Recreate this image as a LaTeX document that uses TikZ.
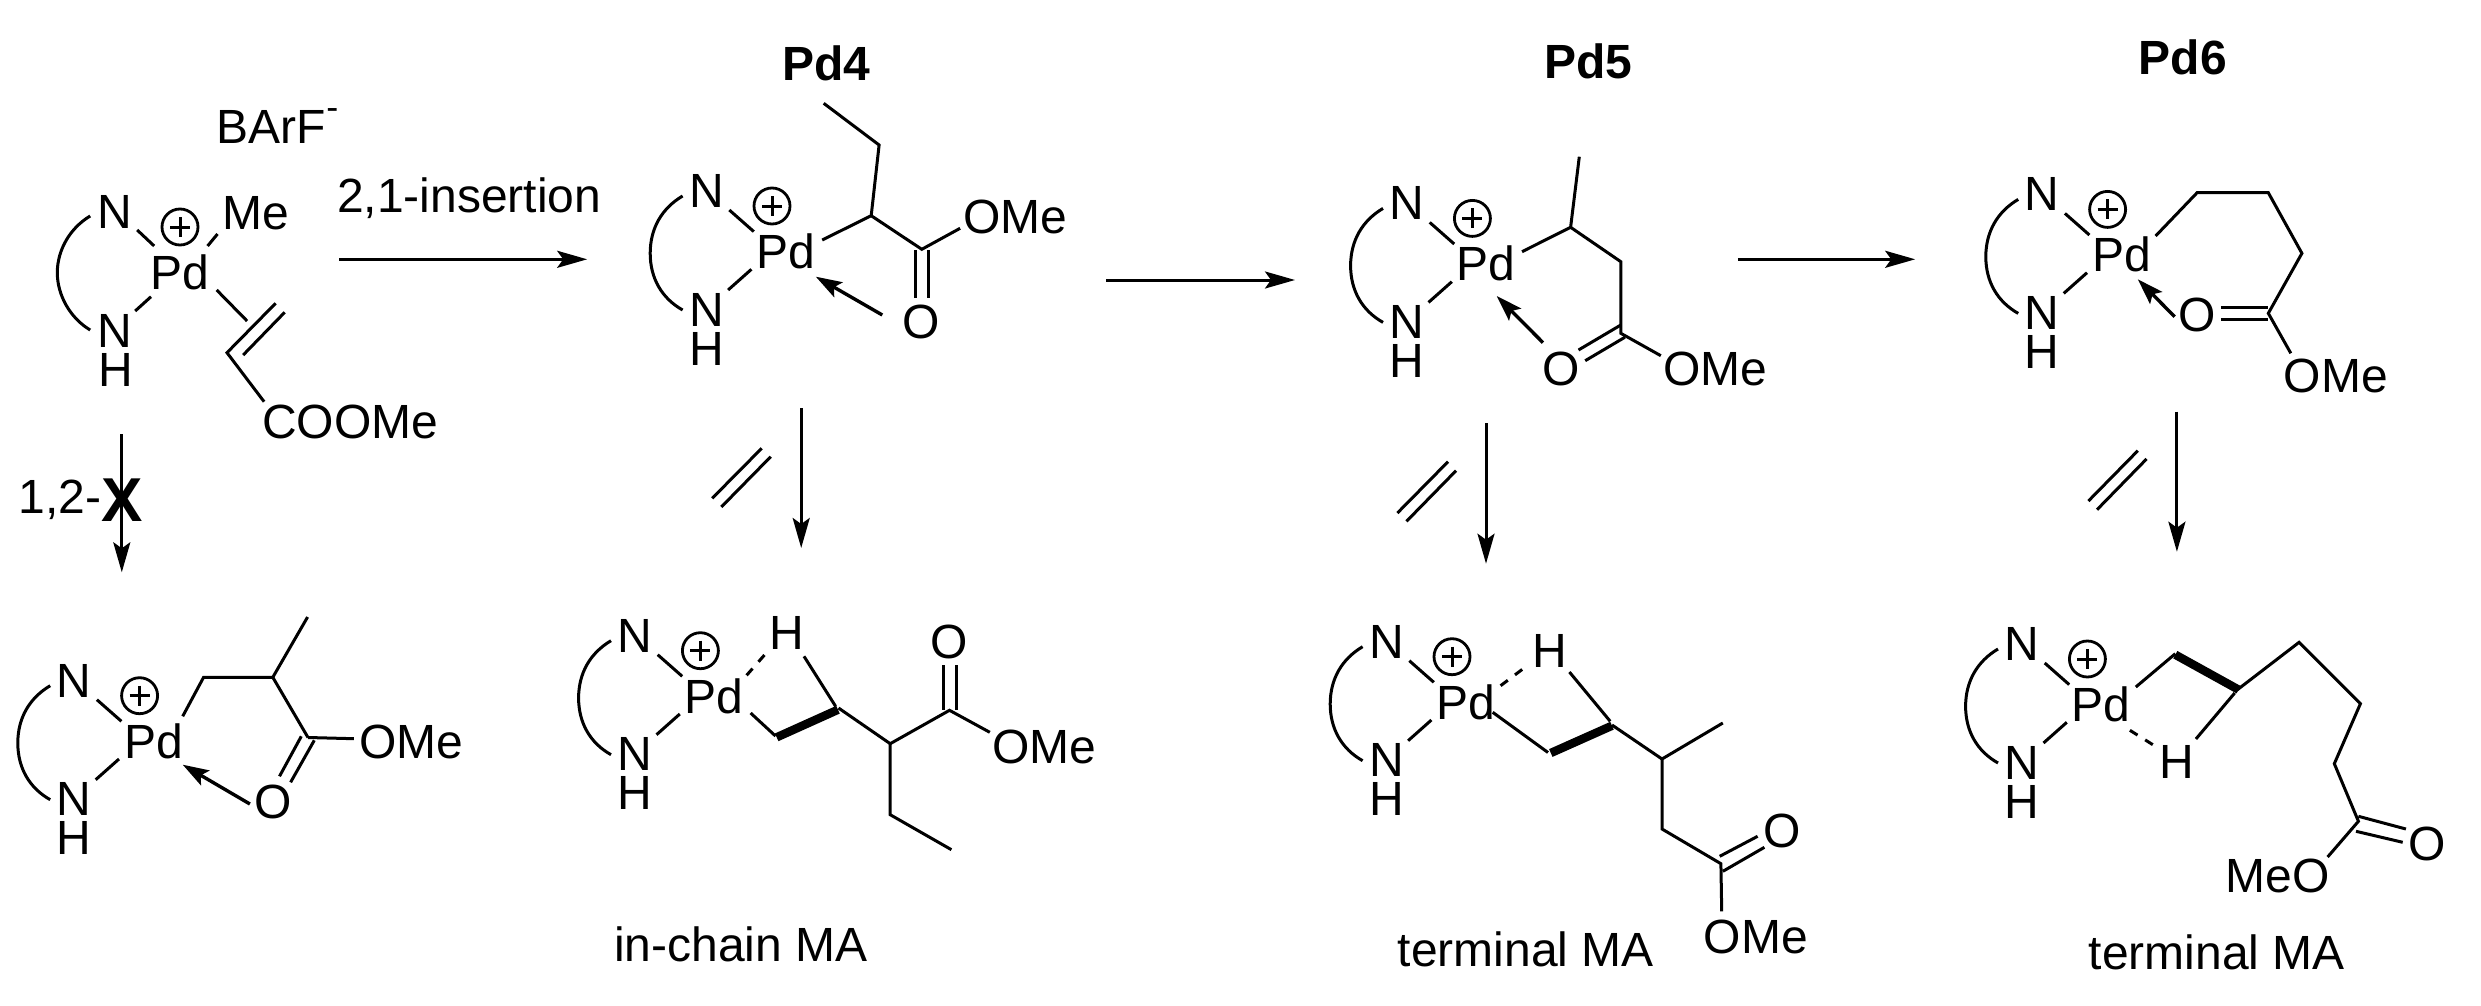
\documentclass[tikz,border=0pt]{standalone}
\usepackage{fontspec}
\setmainfont{Liberation Sans}
\usetikzlibrary{arrows.meta}
\tikzset{
  atom/.style={anchor=base,inner sep=0pt,font=\fontsize{48}{50}\selectfont},
  boldlabel/.style={anchor=base,inner sep=0pt,font=\fontsize{48}{50}\selectfont\bfseries},
  bond/.style={line width=3pt,line join=miter},
  wedgebond/.style={line width=8.5pt},
  dashbond/.style={line width=3pt,dash pattern=on 9pt off 9pt},
  rxn/.style={line width=3pt,-{Stealth[length=30pt,width=17pt,inset=6pt]}},
  coord/.style={line width=3.4pt,-{Stealth[length=26pt,width=17pt,inset=5pt]}},
  pluscirc/.style={circle,draw,line width=2.8pt,inner sep=0pt,minimum size=36pt},
}
\newcommand{\PdCore}[3]{%
  \begin{scope}[shift={(#2,#3)}]
    \node[atom] (#1Pd) at (0,0) {Pd};
    \node[atom] (#1Nt) at (-79.1,-61) {N};
    \node[atom] (#1Nb) at (-79.1,57.7) {N};
    \node[atom] (#1H) at (-79.1,96.7) {H};
    \node[pluscirc] (#1pl) at (-13.8,-62.3) {};
    \draw[bond] (#1pl.center) +(-10,0) -- +(10,0) +(0,-10) -- +(0,10);
    \coordinate (#1a) at (-56.5,-58.3);
    \coordinate (#1b) at (-32,-36.7);
    \coordinate (#1c) at (-34.4,1);
    \coordinate (#1d) at (-57.7,21.7);
    \coordinate (#1e) at (-103.2,-72.3);
    \coordinate (#1f) at (-135.6,-15);
    \coordinate (#1g) at (-103.2,41.7);
    \draw[bond] (#1a) -- (#1b);
    \draw[bond] (#1c) -- (#1d);
    \draw[bond] (#1e) .. controls (-124,-60) and (-135.6,-40) .. (#1f)
                      .. controls (-135.6,10) and (-124,30) .. (#1g);
  \end{scope}}
\begin{document}
\begin{tikzpicture}[x=1pt,y=-1pt]
\useasboundingbox (0,0) rectangle (2481,1006);
\fill[white] (0,0) rectangle (2481,1006);

% ---------- starting complex
\node[atom] (barf) at (277.6,143.3) {BArF\raisebox{24pt}{\fontsize{36}{38}\selectfont -}};
\node[atom] (sPd) at (180.3,289.3) {Pd};
\node[atom] (sNt) at (114.7,228.3) {N};
\node[atom] (sMe) at (255.4,229.3) {Me};
\node[atom] (sNb) at (114.7,347.7) {N};
\node[atom] (sH) at (115.5,386) {H};
\node[atom] (sCOOMe) at (350.3,438.3) {COOMe};
\node[pluscirc] (spl) at (180,227) {};
\draw[bond] (spl.center) +(-10,0) -- +(10,0) +(0,-10) -- +(0,10);
\coordinate (s1) at (137.2,230); \coordinate (s2) at (154.2,246);
\coordinate (s3) at (217.5,234); \coordinate (s4) at (207.6,246);
\coordinate (s5) at (151,296.7); \coordinate (s6) at (135.2,311);
\coordinate (s7) at (90.2,216); \coordinate (s8) at (57.3,272.7); \coordinate (s9) at (90.2,330);
\coordinate (s10) at (216.7,290); \coordinate (s11) at (247.1,321);
\coordinate (s12) at (275.6,303.3); \coordinate (s13) at (227,352.7);
\coordinate (s14) at (284.7,312.3); \coordinate (s15) at (243.2,355);
\coordinate (s16) at (264.1,401.7);
\draw[bond] (s1) -- (s2);
\draw[bond] (s3) -- (s4);
\draw[bond] (s5) -- (s6);
\draw[bond] (s7) .. controls (70,228) and (57.3,250) .. (s8) .. controls (57.3,295) and (70,318) .. (s9);
\draw[bond] (s10) -- (s11);
\draw[bond] (s12) -- (s13) -- (s16);
\draw[bond] (s14) -- (s15);

% reaction label + arrow
\node[atom] (lab21) at (469.3,212.7) {2,1-insertion};
\coordinate (ar1a) at (339.3,259.3); \coordinate (ar1b) at (587.2,259.3);
\draw[rxn] (ar1a) -- (ar1b);

% 1,2- blocked arrow
\coordinate (ar0a) at (121.8,434.3); \coordinate (ar0b) at (121.8,572.3);
\draw[rxn] (ar0a) -- (ar0b);
\node[atom] (lab12) at (60.3,513) {1,2-};
\node[anchor=base,inner sep=0pt,font=\fontsize{62}{64}\selectfont\bfseries] (xmark) at (122.5,521.3) {X};

% ---------- bottom-left product
\PdCore{f}{153.4}{758}
\node[atom] (fO) at (272.8,818) {O};
\node[atom] (fOMe) at (411.2,758) {OMe};
\coordinate (f1) at (182.7,716.3); \coordinate (f2) at (203.6,677.3);
\coordinate (f3) at (272.8,677.3); \coordinate (f4) at (307.6,617);
\coordinate (f5) at (308,737.5); \coordinate (f6) at (301.3,736.3);
\coordinate (f7) at (279.5,776.3); \coordinate (f8) at (314.3,740.3);
\coordinate (f9) at (290.6,782.3); \coordinate (f10) at (353.9,738.7);
\coordinate (f11) at (249.9,804); \coordinate (f12) at (182.7,764.7);
\draw[bond] (f1) -- (f2) -- (f3) -- (f4);
\draw[bond] (f3) -- (f5);
\draw[bond] (f6) -- (f7);
\draw[bond] (f8) -- (f9);
\draw[bond] (f5) -- (f10);
\draw[coord] (f11) -- (f12);

% ---------- Pd4
\node[boldlabel] (lab4) at (826.5,81) {Pd4};
\PdCore{g}{785.8}{268.3}
\node[atom] (gO) at (921,338.3) {O};
\node[atom] (gOMe) at (1015.5,233.3) {OMe};
\coordinate (g1) at (822.2,240); \coordinate (g2) at (871.2,215.7);
\coordinate (g3) at (879.1,145); \coordinate (g4) at (823.7,103.3);
\coordinate (g5) at (921.8,249.3); \coordinate (g6) at (960.1,228.3);
\coordinate (g7) at (915.9,250); \coordinate (g8) at (915.9,297.7);
\coordinate (g9) at (928.5,250); \coordinate (g10) at (928.5,297.7);
\coordinate (g11) at (882.3,315); \coordinate (g12) at (815.8,276.7);
\draw[bond] (g1) -- (g2) -- (g3) -- (g4);
\draw[bond] (g2) -- (g5) -- (g6);
\draw[bond] (g7) -- (g8);
\draw[bond] (g9) -- (g10);
\draw[coord] (g11) -- (g12);

\coordinate (ar2a) at (801.2,408.3); \coordinate (ar2b) at (801.2,548);
\draw[rxn] (ar2a) -- (ar2b);
\coordinate (e1a) at (761.7,448.3); \coordinate (e1b) at (712.2,498.3);
\coordinate (e2a) at (770.7,456.7); \coordinate (e2b) at (721.3,507);
\draw[bond] (e1a) -- (e1b);
\draw[bond] (e2a) -- (e2b);

\coordinate (ar3a) at (1106.4,280); \coordinate (ar3b) at (1295,280);
\draw[rxn] (ar3a) -- (ar3b);

% ---------- bottom Pd4 (in-chain)
\PdCore{h}{714.2}{713}
\node[atom] (hHb) at (786.6,649) {H};
\node[atom] (hO) at (949.5,658) {O};
\node[atom] (hOMe) at (1044.4,763) {OMe};
\node[atom] (hlab) at (740.9,961.3) {in-chain MA};
\coordinate (h1) at (750.6,713); \coordinate (h2) at (775.5,736);
\coordinate (h3) at (776.7,737.3); \coordinate (h4) at (838,709.7);
\coordinate (h5) at (804,656.3); \coordinate (h6) at (835.6,706.3);
\coordinate (h7) at (746.6,675.3); \coordinate (h8) at (765.6,653.7);
\coordinate (h9) at (838.5,708); \coordinate (h10) at (890.2,743.7);
\coordinate (h11) at (949.5,710.3); \coordinate (h12) at (890.2,814.7);
\coordinate (h13) at (951.4,849.7); \coordinate (h14) at (943.5,709.7);
\coordinate (h15) at (943.5,664.7); \coordinate (h16) at (956.2,709.7);
\coordinate (h17) at (956.2,664.7); \coordinate (h18) at (989.8,732.3);
\draw[bond] (h1) -- (h2);
\draw[wedgebond] (h3) -- (h4);
\draw[bond] (h5) -- (h6);
\draw[dashbond] (h7) -- (h8);
\draw[bond] (h9) -- (h10) -- (h11) -- (h18);
\draw[bond] (h10) -- (h12) -- (h13);
\draw[bond] (h14) -- (h15);
\draw[bond] (h16) -- (h17);

% ---------- Pd5
\node[boldlabel] (lab5) at (1588.2,78.3) {Pd5};
\PdCore{i}{1486.2}{280.7}
\node[atom] (iO) at (1560.7,385) {O};
\node[atom] (iOMe) at (1715.5,385) {OMe};
\coordinate (i1) at (1522,251.7); \coordinate (i2) at (1570.6,227.3);
\coordinate (i3) at (1579.3,156.7); \coordinate (i4) at (1620.8,261.7);
\coordinate (i5) at (1620.8,333.3); \coordinate (i6) at (1660.8,355.7);
\coordinate (i7) at (1620.8,325); \coordinate (i8) at (1578.5,350);
\coordinate (i9) at (1624.8,337.3); \coordinate (i10) at (1585.2,360.7);
\coordinate (i11) at (1543,342.7); \coordinate (i12) at (1496.7,296);
\draw[bond] (i1) -- (i2) -- (i3);
\draw[bond] (i2) -- (i4) -- (i5) -- (i6);
\draw[bond] (i7) -- (i8);
\draw[bond] (i9) -- (i10);
\draw[coord] (i11) -- (i12);

\coordinate (ar4a) at (1486,423.3); \coordinate (ar4b) at (1486,563.7);
\draw[rxn] (ar4a) -- (ar4b);
\coordinate (e3a) at (1448,461.7); \coordinate (e3b) at (1397.4,513);
\coordinate (e4a) at (1456,470.7); \coordinate (e4b) at (1406.5,521.3);
\draw[bond] (e3a) -- (e3b);
\draw[bond] (e4a) -- (e4b);

\coordinate (ar5a) at (1737.9,259.3); \coordinate (ar5b) at (1915.2,259.3);
\draw[rxn] (ar5a) -- (ar5b);

% ---------- bottom Pd5
\PdCore{j}{1465.8}{719}
\node[atom] (jHb) at (1549.7,667) {H};
\node[atom] (jO) at (1782.2,847.3) {O};
\node[atom] (jOMe) at (1755.9,953) {OMe};
\node[atom] (jlab) at (1525.7,966.3) {terminal MA};
\coordinate (j1) at (1492.7,712.3); \coordinate (j2) at (1548,752.5);
\coordinate (j3) at (1550.8,753); \coordinate (j4) at (1612,725.7);
\coordinate (j5) at (1569.4,672); \coordinate (j6) at (1610.2,721.3);
\coordinate (j7) at (1500.6,685.7); \coordinate (j8) at (1527.1,665.7);
\coordinate (j9) at (1612,725); \coordinate (j10) at (1662,759);
\coordinate (j11) at (1722.8,723); \coordinate (j12) at (1662,829);
\coordinate (j13) at (1720.9,863.7); \coordinate (j14) at (1721.7,911.3);
\coordinate (j15) at (1757.6,836.3); \coordinate (j16) at (1719.7,856.3);
\coordinate (j17) at (1764.4,847.3); \coordinate (j18) at (1722.9,871.3);
\draw[bond] (j1) -- (j2);
\draw[wedgebond] (j3) -- (j4);
\draw[bond] (j5) -- (j6);
\draw[dashbond] (j7) -- (j8);
\draw[bond] (j9) -- (j10) -- (j11);
\draw[bond] (j10) -- (j12) -- (j13) -- (j14);
\draw[bond] (j15) -- (j16);
\draw[bond] (j17) -- (j18);

% ---------- Pd6
\node[boldlabel] (lab6) at (2182.9,75) {Pd6};
\PdCore{k}{2121.4}{271.7}
\node[atom] (kO) at (2197.1,331.7) {O};
\node[atom] (kOMe) at (2335.9,392.7) {OMe};
\coordinate (k1) at (2155.6,236); \coordinate (k2) at (2197.1,192.7);
\coordinate (k3) at (2268.3,192.7); \coordinate (k4) at (2301.9,253.3);
\coordinate (k5) at (2268.3,313.3); \coordinate (k6) at (2290.8,353.3);
\coordinate (k7) at (2220.8,307.3); \coordinate (k8) at (2268.3,307.3);
\coordinate (k9) at (2220.8,319.3); \coordinate (k10) at (2268.3,319.3);
\coordinate (k11) at (2174.6,316.7); \coordinate (k12) at (2137.8,279.3);
\draw[bond] (k1) -- (k2) -- (k3) -- (k4) -- (k5) -- (k6);
\draw[bond] (k7) -- (k8);
\draw[bond] (k9) -- (k10);
\draw[coord] (k11) -- (k12);

\coordinate (ar6a) at (2176.9,411.7); \coordinate (ar6b) at (2176.9,551.7);
\draw[rxn] (ar6a) -- (ar6b);
\coordinate (e5a) at (2137.8,450.7); \coordinate (e5b) at (2088.4,501);
\coordinate (e6a) at (2146.5,459); \coordinate (e6b) at (2097,509.7);
\draw[bond] (e5a) -- (e5b);
\draw[bond] (e6a) -- (e6b);

% ---------- bottom Pd6
\PdCore{m}{2101.2}{721.3}
\node[atom] (mHb) at (2176.5,778) {H};
\node[atom] (mO) at (2427.2,860.7) {O};
\node[atom] (mMeO) at (2277.4,892.3) {MeO};
\node[atom] (mlab) at (2216.9,969) {terminal MA};
\coordinate (m1) at (2135.8,687); \coordinate (m2) at (2175.3,653.7);
\coordinate (m3) at (2175.3,654.7); \coordinate (m4) at (2238.6,689.7);
\coordinate (m5) at (2234.7,693); \coordinate (m6) at (2195.9,739);
\coordinate (m7) at (2129.9,730.3); \coordinate (m8) at (2154.4,745.7);
\coordinate (m9) at (2237,690); \coordinate (m10) at (2299.1,642.3);
\coordinate (m11) at (2360.4,703.7); \coordinate (m12) at (2334.3,763.7);
\coordinate (m13) at (2358.4,821.3); \coordinate (m14) at (2327.6,857);
\coordinate (m15) at (2358.4,816.3); \coordinate (m16) at (2405.9,829);
\coordinate (m17) at (2356,831.3); \coordinate (m18) at (2402.7,842.3);
\draw[bond] (m1) -- (m2);
\draw[wedgebond] (m3) -- (m4);
\draw[bond] (m5) -- (m6);
\draw[dashbond] (m7) -- (m8);
\draw[bond] (m9) -- (m10) -- (m11) -- (m12) -- (m13) -- (m14);
\draw[bond] (m15) -- (m16);
\draw[bond] (m17) -- (m18);
\end{tikzpicture}
\end{document}
